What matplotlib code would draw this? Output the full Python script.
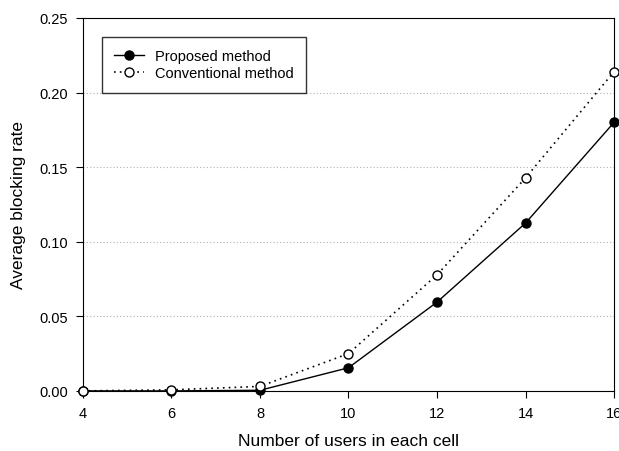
import numpy as np
import matplotlib.pyplot as plt

plt.rcParams['font.family'] = ['Liberation Sans', 'DejaVu Sans']

# Dados
usuarios = [4, 6, 8, 10, 12, 14, 16]
proposto = [0.0, 0.0, 0.0004, 0.0155, 0.0595, 0.1125, 0.180]
convencional = [0.0, 0.0007, 0.003, 0.025, 0.0778, 0.1428, 0.214]

fig = plt.figure(figsize=(6.19, 4.52), dpi=100)
ax = fig.add_axes([0.134, 0.133, 0.858, 0.825])

# Grade horizontal pontilhada
for yg in [0.05, 0.10, 0.15, 0.20]:
    ax.axhline(yg, color="#b0b0b0", lw=0.8, ls=(0, (1, 2)), zorder=0)

ax.plot(usuarios, proposto, color="black", lw=1.0, marker="o", ms=6.5,
        mfc="black", mec="black", label="Proposed method", clip_on=False, zorder=3)
ax.plot(usuarios, convencional, color="black", lw=1.2, ls=(0, (1, 2.5)), marker="o",
        ms=6.5, mfc="white", mec="black", label="Conventional method", clip_on=False, zorder=4)

ax.set_xlim(4, 16)
ax.set_ylim(0, 0.25)
ax.set_xticks([4, 6, 8, 10, 12, 14, 16])
ax.set_yticks([0.0, 0.05, 0.10, 0.15, 0.20, 0.25])
ax.set_yticklabels(["0.00", "0.05", "0.10", "0.15", "0.20", "0.25"])
ax.tick_params(direction="out", length=5, labelsize=10.5, pad=6)

ax.set_xlabel("Number of users in each cell", fontsize=12.5, labelpad=9)
ax.set_ylabel("Average blocking rate", fontsize=12.5, labelpad=9)

leg = ax.legend(loc="upper left", bbox_to_anchor=(0.036, 0.949), borderaxespad=0,
                fontsize=10.5, frameon=True, fancybox=False, edgecolor="black",
                handlelength=2.0, borderpad=0.85, labelspacing=0.2)
leg.get_frame().set_linewidth(1.0)

plt.savefig("out.png", dpi=100)
